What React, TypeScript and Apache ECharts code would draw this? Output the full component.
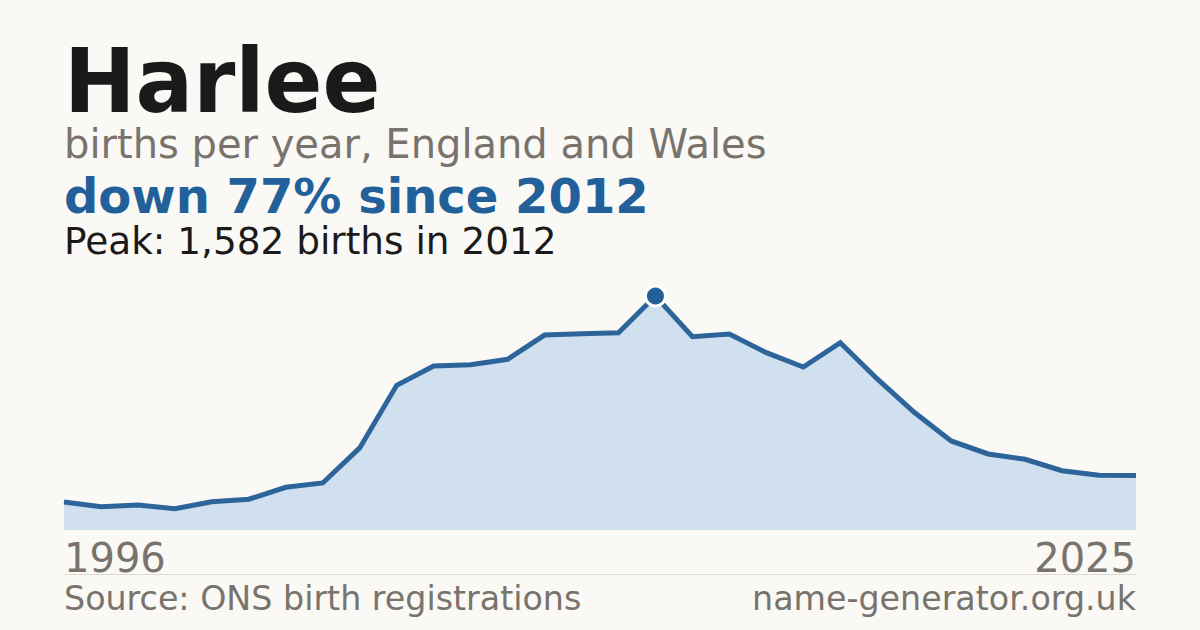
import * as echarts from 'echarts';
import { useEffect, useRef } from 'react';

const years = [
    '1996', '1997', '1998', '1999', '2000', '2001', '2002', '2003', '2004', '2005',
    '2006', '2007', '2008', '2009', '2010', '2011', '2012', '2013', '2014', '2015',
    '2016', '2017', '2018', '2019', '2020', '2021', '2022', '2023', '2024', '2025',
];

const births = [
    189, 158, 169, 144, 191, 208, 289, 318, 555, 978,
    1109, 1118, 1154, 1318, 1327, 1334, 1582, 1307, 1325, 1199,
    1102, 1266, 1021, 796, 602, 514, 478, 401, 370, 368,
];

const peakYear = '2012';

const FONT = '"DejaVu Sans", Verdana, sans-serif';
const BLUE = '#22609a';
const GREY = '#78736c';

export default function App() {
    const chartRef = useRef<HTMLDivElement>(null);

    useEffect(() => {
        if (!chartRef.current) return;

        const chart = echarts.init(chartRef.current, null, { renderer: 'svg' });

        const peakIndex = years.indexOf(peakYear);
        const peakValue = births[peakIndex];
        const last = births[births.length - 1];
        const change = Math.round((1 - last / peakValue) * 100);

        const option: echarts.EChartsOption = {
            animation: false,
            backgroundColor: '#faf9f5',
            textStyle: { fontFamily: FONT },
            grid: {
                left: 64,
                right: 64,
                top: 296,
                bottom: 100,
            },
            xAxis: {
                type: 'category',
                data: years,
                boundaryGap: false,
                axisLine: { show: false },
                axisTick: { show: false },
                axisLabel: {
                    interval: (i: number) => i === 0 || i === years.length - 1,
                    color: GREY,
                    fontSize: 40,
                    fontFamily: FONT,
                    margin: 8,
                    alignMinLabel: 'left',
                    alignMaxLabel: 'right',
                },
            },
            yAxis: {
                type: 'value',
                min: 0,
                max: peakValue,
                show: false,
                splitLine: { show: false },
            },
            graphic: [
                {
                    type: 'text',
                    x: 64,
                    y: 37,
                    scaleX: 0.96,
                    style: {
                        text: 'Harlee',
                        fill: '#1a1a1a',
                        font: `bold 89px ${FONT}`,
                    },
                },
                {
                    type: 'text',
                    left: 64,
                    top: 124,
                    style: {
                        text: 'births per year, England and Wales',
                        fill: GREY,
                        font: `40px ${FONT}`,
                    },
                },
                {
                    type: 'text',
                    left: 64,
                    top: 172,
                    style: {
                        text: `down ${change}% since ${peakYear}`,
                        fill: BLUE,
                        font: `bold 48px ${FONT}`,
                    },
                },
                {
                    type: 'text',
                    left: 64,
                    top: 222,
                    style: {
                        text: `Peak: ${peakValue.toLocaleString('en-GB')} births in ${peakYear}`,
                        fill: '#1a1a1a',
                        font: `37.4px ${FONT}`,
                    },
                },
                {
                    type: 'line',
                    shape: { x1: 64, y1: 574.5, x2: 1136, y2: 574.5 },
                    style: { stroke: '#dddad3', lineWidth: 1 },
                },
                {
                    type: 'text',
                    left: 64,
                    top: 582,
                    style: {
                        text: 'Source: ONS birth registrations',
                        fill: GREY,
                        font: `33.3px ${FONT}`,
                    },
                },
                {
                    type: 'text',
                    right: 64,
                    top: 582,
                    style: {
                        text: 'name-generator.org.uk',
                        fill: GREY,
                        font: `33.3px ${FONT}`,
                    },
                },
            ],
            series: [
                {
                    name: 'Births',
                    type: 'line',
                    data: births.map((v, i) =>
                        i === peakIndex
                            ? {
                                  value: v,
                                  symbol: 'circle',
                                  symbolSize: 20,
                                  itemStyle: { color: BLUE, borderColor: '#ffffff', borderWidth: 3 },
                              }
                            : v,
                    ),
                    showSymbol: true,
                    symbol: 'none',
                    clip: false,
                    lineStyle: { color: '#2d659b', width: 5, join: 'miter' },
                    areaStyle: { color: '#d0e0ef', opacity: 1 },
                    z: 3,
                },
            ],
        };

        chart.setOption(option);

        return () => {
            chart.dispose();
        };
    }, []);

    return (
        <div
            ref={chartRef}
            style={{ position: 'fixed', left: 0, top: 0, width: '1200px', height: '630px' }}
        />
    );
}
